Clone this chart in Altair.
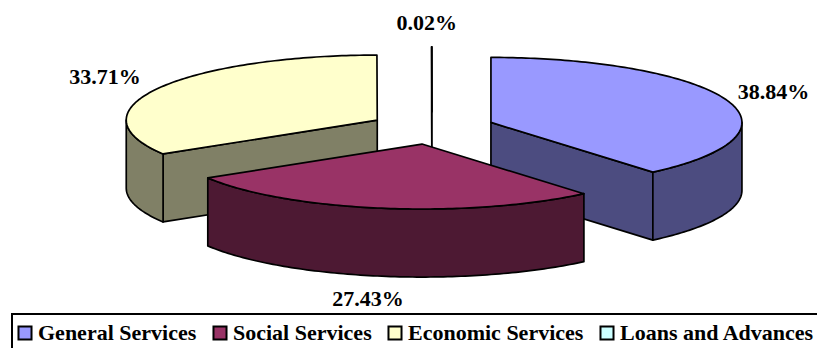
import math
import altair as alt
import pandas as pd

# Shares of expenditure by sector (percent)
categories = ["General Services", "Social Services", "Economic Services", "Loans and Advances"]
shares = [38.84, 27.43, 33.71, 0.02]

# Face colours: lit top faces and shaded walls
top_colors = ["#9999FF", "#993366", "#FFFFCC", "#CCFFFF"]
side_colors = ["#4C4C80", "#4D1933", "#808066", "#668080"]

# Layout of the tilted, exploded pie (plot units are pixels)
W, H = 817, 348
CX, CY = 432, 128      # centre of the unexploded pie top
RX, RY = 251, 65       # ellipse radii of the top face
DEPTH = 68             # thickness of the pie
EXPLODE = 0.25         # radial offset of each slice, fraction of radius
LABEL_FX, LABEL_FY = 1.22, 1.36
LABEL_DX = -5


def point(c, deg, r=1.0, drop=0.0):
    t = math.radians(deg)
    return (c[0] + RX * r * math.sin(t), c[1] - RY * r * math.cos(t) + drop)


def arc(c, a0, a1, drop=0.0):
    n = max(2, int(abs(a1 - a0)) + 1)
    return [point(c, a0 + (a1 - a0) * k / (n - 1), drop=drop) for k in range(n)]


total = sum(shares)
slices = []
start = 0.0
for i, v in enumerate(shares):
    a0 = start
    a1 = start + 360.0 * v / total
    start = a1
    mid = (a0 + a1) / 2
    c = point((CX, CY), mid, r=EXPLODE)
    slices.append(dict(i=i, a0=a0, a1=a1, mid=mid, c=c))

# paint back slices first
order = sorted(slices, key=lambda s: -math.cos(math.radians(s["mid"])))

rows, shapes = [], []
sid = 0


def add(points, kind, ci):
    global sid
    for k, (x, y) in enumerate(points):
        rows.append(dict(shape=sid, seq=k, x=x, y=y, category=categories[ci]))
    shapes.append((sid, kind, ci))
    sid += 1


for s in order:
    c, a0, a1, ci = s["c"], s["a0"], s["a1"], s["i"]
    cb = (c[0], c[1] + DEPTH)
    # radial cut faces that turn toward the viewer
    if math.cos(math.radians(a0 - 90)) < -1e-9:
        p, pb = point(c, a0), point(c, a0, drop=DEPTH)
        add([c, p, pb, cb], "side", ci)
    if math.cos(math.radians(a1 + 90)) < -1e-9:
        p, pb = point(c, a1), point(c, a1, drop=DEPTH)
        add([c, p, pb, cb], "side", ci)
    # front part of the curved wall
    t0, t1 = max(a0, 90.0), min(a1, 270.0)
    if t1 > t0:
        add(arc(c, t0, t1) + arc(c, t1, t0, drop=DEPTH), "side", ci)
    # top face
    add([c] + arc(c, a0, a1), "top", ci)

poly = pd.DataFrame(rows)

labels = []
for s in slices:
    t = math.radians(s["mid"])
    c = s["c"]
    drop = DEPTH if math.cos(t) < 0 else 0
    labels.append(dict(
        x=c[0] + RX * LABEL_FX * math.sin(t) + LABEL_DX,
        y=c[1] - RY * LABEL_FY * math.cos(t) + drop,
        text=f"{shares[s['i']]:.2f}%",
    ))
label_df = pd.DataFrame(labels)

xs = alt.Scale(domain=[0, W], nice=False, zero=False)
ys = alt.Scale(domain=[0, H], nice=False, zero=False, reverse=True)
fill_scale = alt.Scale(domain=categories, range=top_colors)
legend = alt.Legend(
    orient="none", legendX=12, legendY=314, direction="horizontal", title=None,
    symbolType="square", symbolSize=170, symbolStrokeColor="black",
    symbolStrokeWidth=2, symbolOpacity=1, symbolOffset=-6,
    labelFont="Liberation Serif", labelFontSize=22, labelFontWeight="bold",
    labelColor="black", labelOffset=2, labelLimit=0,
    strokeColor="black", padding=8, columnPadding=12,
)

base = alt.Chart(poly).mark_line(
    interpolate="linear-closed", stroke="black", strokeWidth=1.7, strokeJoin="round"
)

layers = []
for shape_id, kind, ci in shapes:
    enc = dict(
        x=alt.X("x:Q", scale=xs, axis=None),
        y=alt.Y("y:Q", scale=ys, axis=None),
        order=alt.Order("seq:Q"),
    )
    if kind == "top":
        enc["fill"] = alt.Fill("category:N", scale=fill_scale, legend=legend)
    else:
        enc["fill"] = alt.value(side_colors[ci])
    layers.append(base.transform_filter(alt.datum.shape == shape_id).encode(**enc))

text_layer = alt.Chart(label_df).mark_text(
    font="Liberation Serif", fontSize=22, fontWeight="bold", color="black",
    align="center", baseline="middle"
).encode(
    x=alt.X("x:Q", scale=xs, axis=None),
    y=alt.Y("y:Q", scale=ys, axis=None),
    text="text:N",
)

chart = alt.layer(*layers, text_layer).properties(
    width=W, height=H,
    autosize=alt.AutoSizeParams(type="none"),
    padding=0,
    background="white",
).configure_view(strokeWidth=0).configure_legend(strokeWidth=2)

chart.save("out.html", embed_options={"renderer": "svg", "actions": False})
